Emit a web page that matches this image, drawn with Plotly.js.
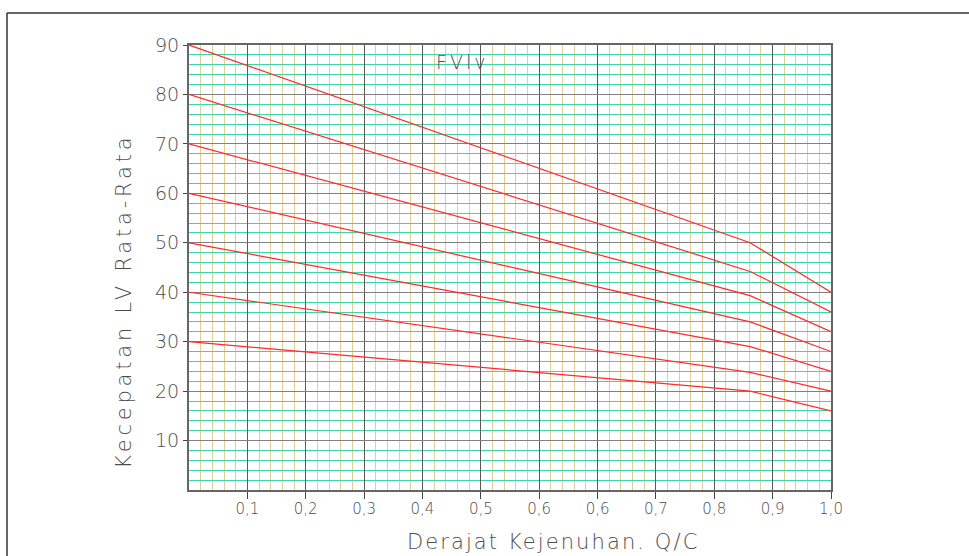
<!DOCTYPE html>
<html>
<head>
<meta charset="utf-8">
<script src="https://cdn.plot.ly/plotly-3.0.1.min.js"></script>
<style>
  html, body { margin: 0; padding: 0; background: #ffffff; }
  #chart { width: 969px; height: 556px; }
</style>
</head>
<body>
<div id="chart"></div>
<script>
// Degree of saturation (x position, right edge = 1,0) where each line bends / ends
const degreeOfSaturation = [0, 0.874, 1.0];

// Average LV speed for each free-flow-speed line
const fv90 = [90, 50, 40];
const fv80 = [80, 44.2, 36];
const fv70 = [70, 39.3, 32];
const fv60 = [60, 34, 28];
const fv50 = [50, 29, 24];
const fv40 = [40, 23.8, 20];
const fv30 = [30, 20, 16];

// X tick labels as printed on the chart
const xTickText = ["0,1","0,2","0,3","0,4","0,5","0,6","0,6","0,7","0,8","0,9","1,0"];
const xTickVals = xTickText.map((_, i) => (i + 1) / xTickText.length);
const yTickVals = [10, 20, 30, 40, 50, 60, 70, 80, 90];

const seriesList = [fv90, fv80, fv70, fv60, fv50, fv40, fv30];
const traces = seriesList.map(ys => ({
  type: 'scatter',
  mode: 'lines',
  x: degreeOfSaturation,
  y: ys,
  line: { color: '#ff2a2a', width: 1.2 },
  hoverinfo: 'skip',
  showlegend: false
}));

const fontThin = 'DejaVu Sans, sans-serif';
const txtColor = '#4e4e4e';

const layout = {
  width: 969,
  height: 556,
  margin: { l: 189, r: 138, t: 45, b: 66, pad: 0 },
  paper_bgcolor: '#ffffff',
  plot_bgcolor: '#ffffff',
  showlegend: false,
  xaxis: {
    range: [0, 1],
    tickmode: 'array',
    tickvals: xTickVals,
    ticktext: xTickText,
    ticks: 'outside',
    ticklen: 7,
    tickwidth: 1,
    tickcolor: '#444',
    ticklabelstandoff: -3,
    tickfont: { family: fontThin, size: 15, weight: 200, color: txtColor },
    showgrid: true,
    gridcolor: '#5a5a5a',
    gridwidth: 1,
    minor: { tickmode: 'linear', tick0: 0, dtick: 1 / 55, showgrid: true, gridcolor: '#e2cc9a', gridwidth: 1, ticks: '' },
    showline: true,
    linecolor: '#666666',
    linewidth: 2,
    mirror: true,
    zeroline: false,
    fixedrange: true
  },
  yaxis: {
    range: [0, 90],
    tickmode: 'array',
    tickvals: yTickVals,
    ticks: 'outside',
    ticklen: 4,
    tickwidth: 1,
    tickcolor: '#444',
    tickfont: { family: fontThin, size: 19, weight: 200, color: txtColor },
    showgrid: true,
    gridcolor: '#808080',
    gridwidth: 1,
    minor: { tickmode: 'linear', tick0: 0, dtick: 2, showgrid: true, gridcolor: '#3cd6a8', gridwidth: 1, ticks: '' },
    showline: true,
    linecolor: '#666666',
    linewidth: 2,
    mirror: true,
    zeroline: false,
    fixedrange: true
  },
  annotations: [
    {
      text: 'FVlv', xref: 'paper', yref: 'paper', x: 0.425, y: 0.962,
      xanchor: 'center', yanchor: 'middle', showarrow: false,
      font: { family: fontThin, size: 19, weight: 200, color: txtColor }
    },
    {
      text: 'Derajat Kejenuhan. Q/C', xref: 'paper', yref: 'paper', x: 0.567, y: -0.116,
      xanchor: 'center', yanchor: 'middle', showarrow: false,
      font: { family: fontThin, size: 21, weight: 200, color: txtColor }
    },
    {
      text: 'Kecepatan LV Rata-Rata', xref: 'paper', yref: 'paper', x: -0.101, y: 0.425,
      xanchor: 'center', yanchor: 'middle', showarrow: false, textangle: -90,
      font: { family: fontThin, size: 21, weight: 200, color: txtColor }
    }
  ],
  shapes: [
    { type: 'line', xref: 'paper', yref: 'paper', x0: -0.2835, x1: 1.215, y0: 1.0719, y1: 1.0719,
      line: { color: '#333333', width: 1.5 } },
    { type: 'line', xref: 'paper', yref: 'paper', x0: -0.2835, x1: -0.2835, y0: 1.0719, y1: -0.15,
      line: { color: '#333333', width: 1.5 } }
  ]
};

Plotly.newPlot('chart', traces, layout, { staticPlot: true, displayModeBar: false }).then(() => {
  // letter spacing like the CAD lettering of the original
  const spacing = [3, 2.1, 3.8];
  document.querySelectorAll('#chart .annotation-text').forEach((el, i) => {
    el.style.letterSpacing = (spacing[i] || 0) + 'px';
  });
});
</script>
</body>
</html>
